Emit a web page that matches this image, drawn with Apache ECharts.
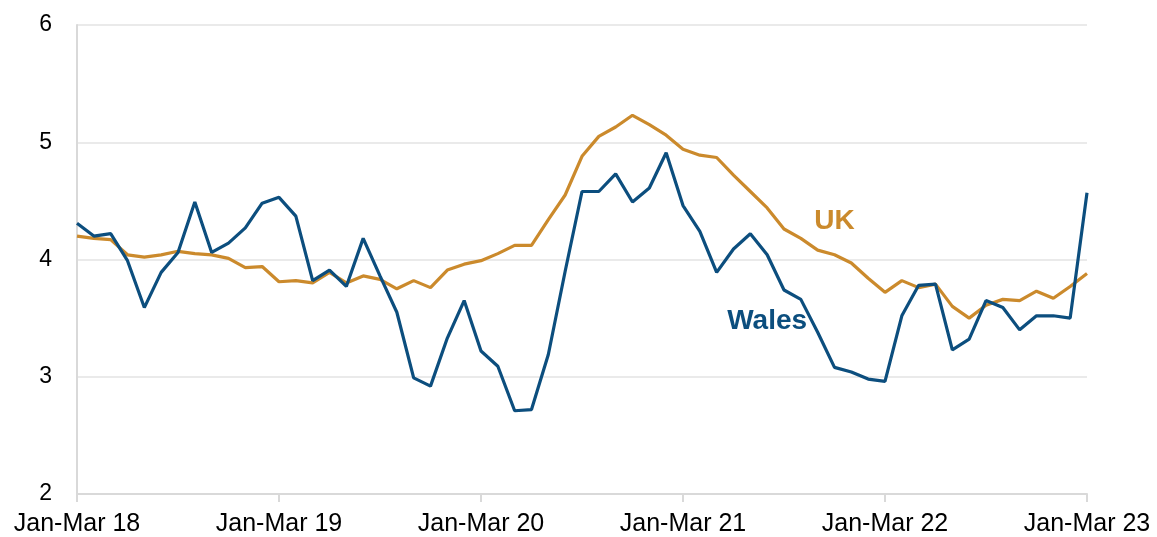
<!DOCTYPE html>
<html>
<head>
<meta charset="utf-8">
<script src="https://cdn.jsdelivr.net/npm/echarts@6/dist/echarts.min.js"></script>
<style>
html,body{margin:0;padding:0;background:#fff;}
#chart{width:1157px;height:537px;}
</style>
</head>
<body>
<div id="chart"></div>
<script>
// Rolling quarters Jan-Mar 18 ... Jan-Mar 23 (monthly)
const months = ['Jan','Feb','Mar','Apr','May','Jun','Jul','Aug','Sep','Oct','Nov','Dec'];
const categories = [];
for (let y = 18; y <= 23; y++) {
  for (let m = 0; m < 12; m++) {
    if (y === 23 && m > 0) break;
    categories.push(months[m] + '-' + months[(m + 2) % 12] + ' ' + (m + 2 > 11 ? y + 1 : y));
  }
}
const wales = [4.31,4.20,4.22,3.99,3.59,3.89,4.06,4.49,4.06,4.14,4.27,4.48,
               4.53,4.37,3.82,3.91,3.77,4.18,3.86,3.55,2.99,2.92,3.33,3.65,
               3.22,3.09,2.71,2.72,3.19,3.90,4.58,4.58,4.73,4.49,4.61,4.91,
               4.46,4.24,3.89,4.09,4.22,4.04,3.74,3.66,3.38,3.08,3.04,2.98,
               2.96,3.52,3.78,3.79,3.23,3.32,3.65,3.59,3.40,3.52,3.52,3.50,
               4.57];
const uk = [4.20,4.18,4.17,4.04,4.02,4.04,4.07,4.05,4.04,4.01,3.93,3.94,
            3.81,3.82,3.80,3.89,3.80,3.86,3.83,3.75,3.82,3.76,3.91,3.96,
            3.99,4.05,4.12,4.12,4.34,4.55,4.88,5.05,5.13,5.23,5.15,5.06,
            4.94,4.89,4.87,4.72,4.58,4.44,4.26,4.18,4.08,4.04,3.97,3.84,
            3.72,3.82,3.76,3.79,3.60,3.50,3.61,3.66,3.65,3.73,3.67,3.77,
            3.88];
const yTicks = [2,3,4,5,6];
const tickLabels = ['Jan-Mar 18','Jan-Mar 19','Jan-Mar 20','Jan-Mar 21','Jan-Mar 22','Jan-Mar 23'];

const WALES_COLOR = '#0C4E7E';
const UK_COLOR = '#CB8A2C';
const FONT = 'Liberation Sans, Arial, sans-serif';

const chart = echarts.init(document.getElementById('chart'), null, {renderer: 'canvas'});
chart.setOption({
  animation: false,
  backgroundColor: '#fff',
  grid: {left: 77, right: 70, top: 25, bottom: 42, containLabel: false},
  xAxis: {
    type: 'category',
    data: categories,
    boundaryGap: false,
    axisLine: {lineStyle: {color: '#d9d9d9', width: 2}},
    axisTick: {show: true, interval: 11, length: 8, lineStyle: {color: '#d9d9d9', width: 2}},
    axisLabel: {
      interval: 11,
      margin: 18,
      color: '#000',
      fontSize: 25,
      fontFamily: FONT,
      formatter: function (v, i) { return tickLabels.indexOf(v) >= 0 ? v : ''; }
    },
    splitLine: {show: false}
  },
  yAxis: {
    type: 'value',
    min: yTicks[0],
    max: yTicks[yTicks.length - 1],
    interval: 1,
    axisLine: {show: true, lineStyle: {color: '#d9d9d9', width: 2}},
    axisTick: {show: false},
    axisLabel: {margin: 25, color: '#000', fontSize: 23, fontFamily: FONT},
    splitLine: {lineStyle: {color: '#e3e3e3', width: 1.5}}
  },
  series: [
    {name: 'UK', type: 'line', data: uk, symbol: 'none', lineStyle: {color: UK_COLOR, width: 3.2}, z: 2},
    {name: 'Wales', type: 'line', data: wales, symbol: 'none', lineStyle: {color: WALES_COLOR, width: 3.2}, z: 3}
  ]
});

function placeLabels() {
  const ukPos = chart.convertToPixel({xAxisIndex: 0, yAxisIndex: 0}, [44.6, 4.33]);
  const wPos = chart.convertToPixel({xAxisIndex: 0, yAxisIndex: 0}, [41.1, 3.47]);
  chart.setOption({
    graphic: [
      {type: 'text', x: ukPos[0], y: ukPos[1], style: {text: 'UK', fill: UK_COLOR, font: 'bold 28px ' + FONT, textAlign: 'center', textVerticalAlign: 'middle'}},
      {type: 'text', x: wPos[0], y: wPos[1], style: {text: 'Wales', fill: WALES_COLOR, font: 'bold 28px ' + FONT, textAlign: 'center', textVerticalAlign: 'middle'}}
    ]
  });
}
placeLabels();
</script>
</body>
</html>
